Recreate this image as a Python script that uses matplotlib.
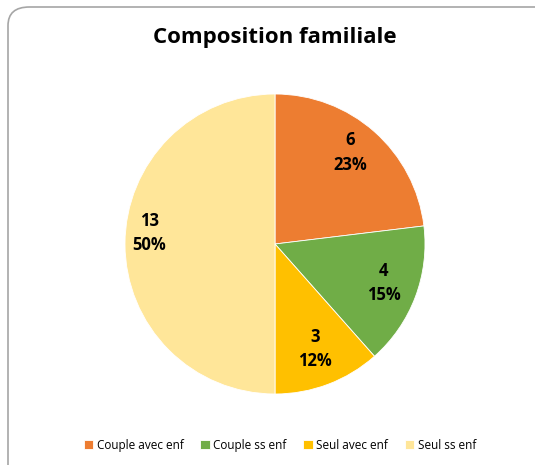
import numpy as np
import matplotlib.pyplot as plt
from matplotlib.patches import FancyBboxPatch

# Data
categories = ["Couple avec enf", "Couple ss enf", "Seul avec enf", "Seul ss enf"]
counts = [6, 4, 3, 13]
colors = ["#ED7D31", "#70AD47", "#FFC000", "#FFE699"]

plt.rcParams['font.family'] = ['Open Sans', 'DejaVu Sans']

W, H = 535, 465
fig = plt.figure(figsize=(W / 100, H / 100), dpi=100)

# rounded chart border
border = FancyBboxPatch((8 / W, -0.1), 1.2, (H - 7) / H + 0.1,
                        boxstyle="round,pad=0,rounding_size=0.04",
                        transform=fig.transFigure, facecolor="none",
                        edgecolor="#A6A6A6", linewidth=1.2, zorder=0)
fig.patches.append(border)

cx, cy, r = 275, H - 244, 150
ax = fig.add_axes([(cx - r) / W, (cy - r) / H, 2 * r / W, 2 * r / H])
ax.patch.set_visible(False)

total = sum(counts)
wedges, _ = ax.pie(counts, colors=colors, startangle=90, counterclock=False,
                   radius=1, wedgeprops=dict(linewidth=0.6, edgecolor="white"))

# label placement: distance from centre and small angle shift (deg)
dists = [0.79, 0.77, 0.75, 0.84]
shifts = [2, 1, 0, -5]
for w, c, d, s in zip(wedges, counts, dists, shifts):
    ang = np.deg2rad((w.theta1 + w.theta2) / 2 + s)
    ax.text(d * np.cos(ang), d * np.sin(ang),
            f"{c}\n{round(100 * c / total)}%", ha="center", va="center",
            fontsize=12, fontweight="bold", color="black", linespacing=1.45)
ax.set_xlim(-1, 1)
ax.set_ylim(-1, 1)
ax.set_aspect("equal")
ax.axis("off")

fig.text(275 / W, 1 - 37 / H, "Composition familiale", ha="center", va="center",
         fontsize=16, fontweight="bold")

fig.legend(wedges, categories, loc="center", bbox_to_anchor=(280 / W, 1 - 445 / H),
           ncol=4, frameon=False, fontsize=8.5, handlelength=0.8, handleheight=0.8,
           handletextpad=0.3, columnspacing=1.4)

fig.savefig("out.png", dpi=100)
